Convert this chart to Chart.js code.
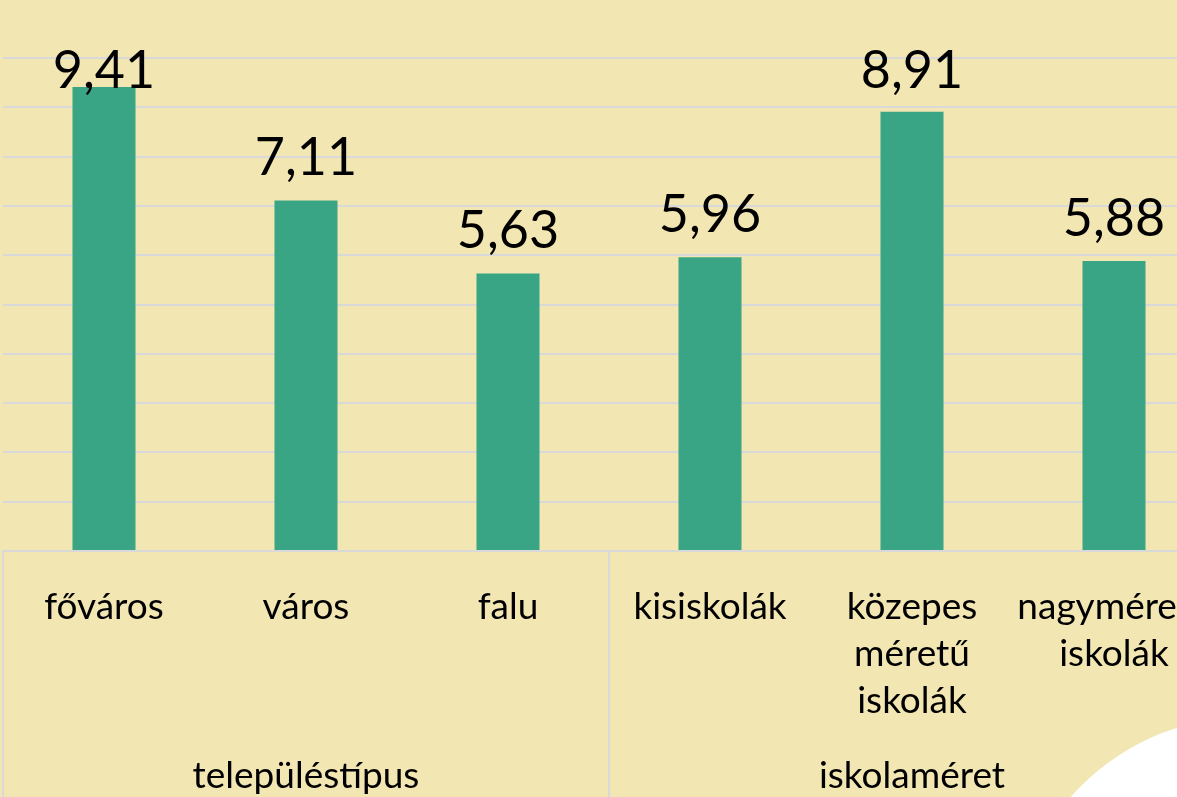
<!DOCTYPE html>
<html lang="hu">
<head>
<meta charset="utf-8">
<script src="https://cdn.jsdelivr.net/npm/chart.js@4.4.1/dist/chart.umd.min.js"></script>
<style>
    html, body {
        margin: 0;
        padding: 0;
        width: 1177px;
        height: 797px;
        overflow: hidden;
        background: #f2e6b2;
    }
    #wrap {
        position: absolute;
        left: 0;
        top: 0;
        width: 1250px;
        height: 800px;
    }
    #blob {
        position: absolute;
        left: 1010px;
        top: 716px;
        width: 482px;
        height: 482px;
        border-radius: 50%;
        background: #ffffff;
    }
</style>
</head>
<body>
<div id="wrap"><canvas id="chart"></canvas></div>
<div id="blob"></div>
<script>
// categories and values
const categories = [
    'főváros',
    'város',
    'falu',
    'kisiskolák',
    ['közepes', 'méretű', 'iskolák'],
    ['nagyméretű', 'iskolák']
];
const values = [9.41, 7.11, 5.63, 5.96, 8.91, 5.88];
const groups = ['településtípus', 'iskolaméret'];
const groupSizes = [3, 3];
const yTicks = [0, 1, 2, 3, 4, 5, 6, 7, 8, 9, 10];

const gridColor = '#d9d9d9';
const fontFamily = 'Lato, "Open Sans", sans-serif';

// value labels above the bars (Hungarian decimal comma)
const valueLabels = {
    id: 'valueLabels',
    afterDatasetsDraw(chart) {
        const ctx = chart.ctx;
        const meta = chart.getDatasetMeta(0);
        ctx.save();
        ctx.font = '52px ' + fontFamily;
        ctx.fillStyle = '#000';
        ctx.textAlign = 'center';
        ctx.textBaseline = 'alphabetic';
        meta.data.forEach((bar, i) => {
            const text = values[i].toFixed(2).replace('.', ',');
            // keep the label inside the plot like the original does
            const y = Math.max(bar.y - 25, 88);
            ctx.fillText(text, bar.x, y);
        });
        ctx.restore();
    }
};

// group separators and group names under the category labels
const groupAxis = {
    id: 'groupAxis',
    afterDraw(chart) {
        const ctx = chart.ctx;
        const x = chart.scales.x;
        const area = chart.chartArea;
        const step = x.getPixelForValue(1) - x.getPixelForValue(0);
        ctx.save();
        ctx.strokeStyle = gridColor;
        ctx.lineWidth = 2;
        let start = 0;
        const edges = [area.left];
        groupSizes.forEach((n, g) => {
            const left = x.getPixelForValue(start) - step / 2;
            const right = x.getPixelForValue(start + n - 1) + step / 2;
            edges.push(right);
            ctx.font = '37px ' + fontFamily;
            ctx.fillStyle = '#000';
            ctx.textAlign = 'center';
            ctx.textBaseline = 'middle';
            ctx.fillText(groups[g], (left + right) / 2, area.bottom + 225);
            start += n;
        });
        edges.forEach(px => {
            ctx.beginPath();
            ctx.moveTo(px, area.bottom);
            ctx.lineTo(px, chart.height);
            ctx.stroke();
        });
        ctx.restore();
    }
};

new Chart(document.getElementById('chart').getContext('2d'), {
    type: 'bar',
    data: {
        labels: categories,
        datasets: [{
            data: values,
            backgroundColor: '#3aa585',
            barPercentage: 0.312,
            categoryPercentage: 1
        }]
    },
    options: {
        responsive: true,
        maintainAspectRatio: false,
        animation: false,
        layout: {
            padding: { left: 3, right: 35, top: 58, bottom: 0 }
        },
        plugins: {
            legend: { display: false },
            tooltip: { enabled: false }
        },
        scales: {
            x: {
                grid: { display: false },
                border: { color: gridColor, width: 2 },
                ticks: {
                    color: '#000',
                    font: { family: fontFamily, size: 37, lineHeight: 1.27 },
                    padding: 25,
                    maxRotation: 0,
                    autoSkip: false
                },
                afterFit(scale) {
                    scale.height = 249;
                }
            },
            y: {
                min: yTicks[0],
                max: yTicks[yTicks.length - 1],
                afterBuildTicks(scale) {
                    scale.ticks = yTicks.map(v => ({ value: v }));
                },
                grid: { color: gridColor, lineWidth: 2, drawTicks: false },
                border: { display: false },
                ticks: { display: false },
                afterFit(scale) {
                    scale.width = 0;
                }
            }
        }
    },
    plugins: [valueLabels, groupAxis]
});
</script>
</body>
</html>
